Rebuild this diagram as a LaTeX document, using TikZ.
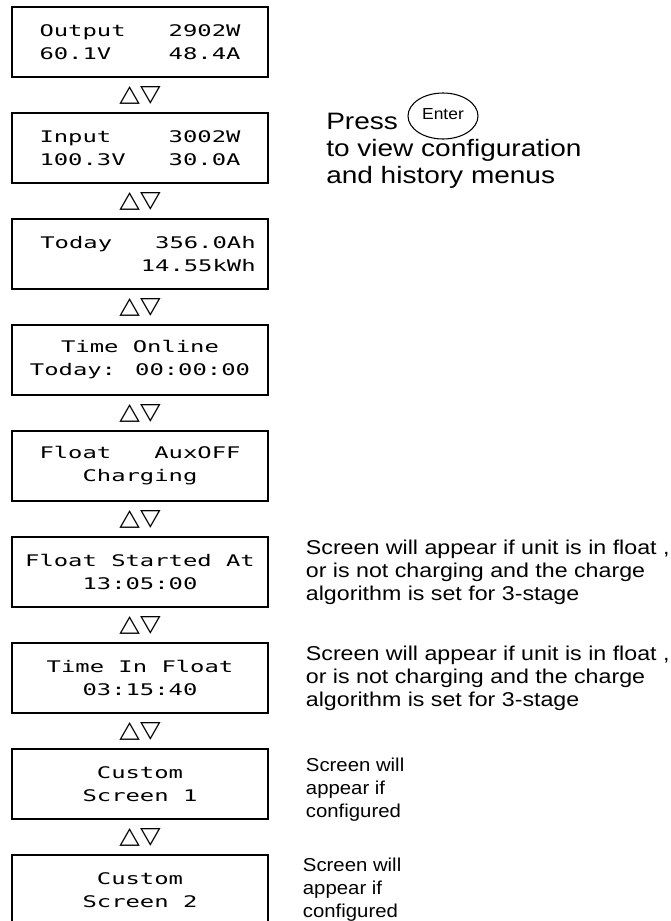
\documentclass[tikz,border=0pt]{standalone}
\usepackage{fontspec}
\setmainfont{Liberation Sans}
\newfontfamily\lcdfont[FakeStretch=1.49]{DejaVu Sans Mono}
\newfontfamily\notefont[FakeStretch=1.16]{Liberation Sans}
\newfontfamily\smallnotefont[FakeStretch=1.09]{Liberation Sans}
\newfontfamily\pressfont[FakeStretch=1.18]{Liberation Sans}
\newfontfamily\symfont[FakeStretch=1.15]{DejaVu Sans}
\usetikzlibrary{positioning,shapes.geometric}
\tikzset{
  screen/.style={draw,rectangle,line width=1pt,minimum width=192pt,minimum height=52.5pt,
    align=center,inner sep=0pt,font=\lcdfont\fontsize{12}{17.25}\selectfont},
  updown/.style={inner sep=0pt,font=\symfont\fontsize{17.5}{17.5}\selectfont},
  note/.style={align=left,inner sep=0pt,font=\notefont\fontsize{15}{17.25}\selectfont},
  smallnote/.style={note,font=\smallnotefont\fontsize{14}{17.25}\selectfont},
}
\begin{document}
\begin{tikzpicture}[x=0.75pt,y=0.75pt,node distance=79.5pt]
  \useasboundingbox (0,0) rectangle (671,-921);
  \node (out) [screen] at (140,-42) {Output~~~2902W\\60.1V~~~~48.4A};
  \node (in) [screen,below of=out] {Input~~~~3002W\\100.3V~~~30.0A};
  \node (today) [screen,below of=in,align=right] {\hspace*{12pt}Today~~~356.0Ah\\14.55kWh};
  \node (online) [screen,below of=today] {Time Online\\Today: 00:00:00};
  \node (float) [screen,below of=online] {Float~~~AuxOFF\\Charging};
  \node (fstart) [screen,below of=float] {Float Started At\\13:05:00};
  \node (infloat) [screen,below of=fstart] {Time In Float\\03:15:40};
  \node (cust1) [screen,below of=infloat] {Custom\\Screen 1};
  \node (cust2) [screen,below of=cust1] {Custom\\Screen 2};
  \foreach \a/\b in {out/in,in/today,today/online,online/float,float/fstart,fstart/infloat,infloat/cust1,cust1/cust2}
    \path (\a) -- node [updown] {△▽} (\b);
  \node (press) [anchor=west,align=left,inner sep=0pt,font=\pressfont\fontsize{17.8}{20.25}\selectfont] at (326,-151)
    {Press\\to view configuration\\and history menus};
  \node (enter) [draw,ellipse,line width=0.8pt,minimum width=52.5pt,minimum height=34.5pt,inner sep=0pt,
    font=\smallnotefont\fontsize{12}{12}\selectfont] at (443,-116) {\raisebox{3.5pt}{Enter}};
  \node (n1) [note,right=27.75pt of fstart] {Screen will appear if unit is in float ,\\or is not charging and the charge\\algorithm is set for 3-stage};
  \node (n2) [note,right=27.75pt of infloat] {Screen will appear if unit is in float ,\\or is not charging and the charge\\algorithm is set for 3-stage};
  \node (n3) [smallnote,right=27.75pt of cust1,yshift=-4.5pt] {Screen will\\appear if\\configured};
  \node (n4) [smallnote,right=25.5pt of cust2] {Screen will\\appear if\\configured};
\end{tikzpicture}
\end{document}
